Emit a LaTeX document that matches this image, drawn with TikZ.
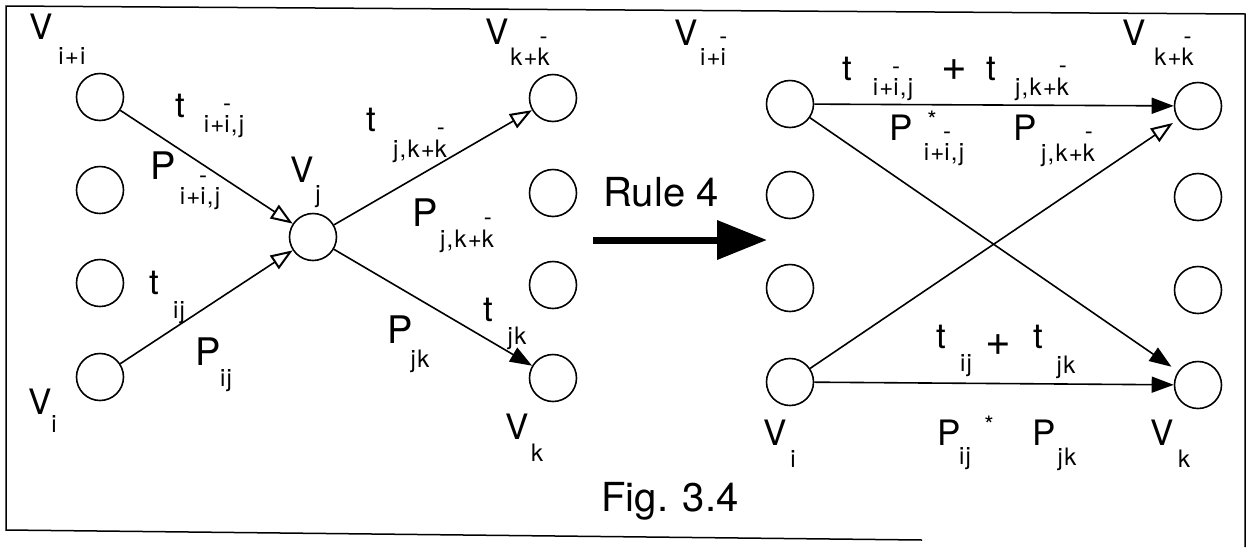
\documentclass[tikz,border=0pt]{standalone}
\usepackage{fontspec}
\setmainfont{TeX Gyre Heros}
\usetikzlibrary{arrows.meta}
\newcommand\ob[1]{\setbox0\hbox{#1}\rlap{\smash{\raisebox{\dimexpr\ht0+4pt\relax}{\hbox to\wd0{\hss-\hss}}}}#1}
\tikzset{
  main/.style={font=\fontsize{35}{40}\selectfont, inner sep=0pt},
  bigp/.style={font=\fontsize{38}{44}\selectfont, inner sep=0pt},
  sub/.style={font=\fontsize{24}{28}\selectfont\addfontfeature{LetterSpace=5}, inner sep=0pt},
  plus/.style={font=\fontsize{44}{50}\selectfont, inner sep=0pt},
  title/.style={font=\fontsize{40}{46}\selectfont, inner sep=0pt},
  vtx/.style={circle, draw, line width=1.6pt, minimum size=47pt, inner sep=0pt},
  conn/.style={line width=1.6pt},
  fa/.style={-{Triangle[length=22pt,width=16pt]}},
  oa/.style={-{Triangle[open,length=22pt,width=16pt,line width=2pt]}},
}
\begin{document}
\begin{tikzpicture}[x=1pt,y=-1pt]
\useasboundingbox (0,0) rectangle (1254,547);
% frame
\draw[line width=1.5pt] (922,540) -- (6,530) -- (6,6) -- (1245,14) -- (1245,547);
% left graph vertices
\node[vtx] (a1) at (100,97) {};
\node[vtx] (a2) at (100,190) {};
\node[vtx] (a3) at (100,283) {};
\node[vtx] (a4) at (100,377) {};
\node[vtx] (vj) at (313,237) {};
\node[vtx] (b1) at (553,98) {};
\node[vtx] (b2) at (553,193) {};
\node[vtx] (b3) at (553,285) {};
\node[vtx] (b4) at (553,378) {};
% right graph vertices
\node[vtx] (c1) at (790,104) {};
\node[vtx] (c2) at (790,195) {};
\node[vtx] (c3) at (790,288) {};
\node[vtx] (c4) at (790,382) {};
\node[vtx] (d1) at (1198,106) {};
\node[vtx] (d2) at (1198,197) {};
\node[vtx] (d3) at (1198,290) {};
\node[vtx] (d4) at (1198,385) {};
% left graph edges
\draw[conn,oa] (a1) -- (vj);
\draw[conn,oa] (a4) -- (vj);
\draw[conn,oa] (vj) -- (b1);
\draw[conn,fa] (vj) -- (b4);
% right graph edges
\draw[conn,fa] (c1) -- (d1);
\draw[conn,fa,shorten >=8pt] (c1) -- (d4);
\draw[conn,oa,shorten >=6pt] (c4) -- (d1);
\draw[conn,fa] (c4) -- (d4);
% rule arrow
\coordinate (rs) at (593,240);
\coordinate (re) at (767,240);
\draw[line width=7pt,-{Triangle[length=50pt,width=38pt]}] (rs) -- (re);
\node[title] (rule) at (661,192) {Rule 4};
\node[title] (fig) at (670,501) {Fig. 3.4};
% left graph labels
\node[main] (lVii) at (41,27) {V};
\node[sub] (lViis) at (72,56) {i+i};
\node[main] (lt1) at (180,106) {t};
\node[sub] (lt1s) at (224,127) {i+\ob{i},j};
\node[bigp] (lP1) at (163,166) {P};
\node[sub] (lP1s) at (200,199) {i+\ob{i},j};
\node[main] (lVj) at (302,170) {V};
\node[sub] (lVjs) at (318,197) {j};
\node[main] (ltij) at (154,283) {t};
\node[sub] (ltijs) at (179,313) {ij};
\node[bigp] (lPij) at (208,352) {P};
\node[sub] (lPijs) at (226,381) {ij};
\node[main] (lVi) at (40,402) {V};
\node[sub] (lVis) at (54,424) {i};
\node[main] (ltjk1) at (371,120) {t};
\node[sub] (ltjk1s) at (420,151) {j,k+\ob{k}};
\node[bigp] (lPjk1) at (425,213) {P};
\node[sub] (lPjk1s) at (467,241) {j,k+\ob{k}};
\node[main] (lVkk) at (497,32) {V};
\node[sub] (lVkks) at (530,57) {k+\ob{k}};
\node[bigp] (lPjk) at (400,330) {P};
\node[sub] (lPjks) at (420,361) {jk};
\node[main] (ltjk) at (488,310) {t};
\node[sub] (ltjks) at (517,338) {jk};
\node[main] (lVk) at (517,427) {V};
\node[sub] (lVks) at (537,453) {k};
% right graph labels
\node[main] (rVii) at (686,33) {V};
\node[sub] (rViis) at (713,57) {i+\ob{i}};
\node[main] (rVkk) at (1134,33) {V};
\node[sub] (rVkks) at (1174,57) {k+\ob{k}};
\node[main] (rt1) at (847,69) {t};
\node[sub] (rt1s) at (893,90) {i+\ob{i},j};
\node[plus] (rplus1) at (954,70) {+};
\node[main] (rt2) at (991,69) {t};
\node[sub] (rt2s) at (1042,89) {j,k+\ob{k}};
\node[main] (rP1) at (901,128) {P};
\node[sub] (rP1s) at (944,155) {i+\ob{i},j};
\node[sub] (rstar1) at (932,120) {*};
\node[main] (rP2) at (1025,128) {P};
\node[sub] (rP2s) at (1068,155) {j,k+\ob{k}};
\node[main] (rtij) at (941,337) {t};
\node[sub] (rtijs) at (966,366) {ij};
\node[plus] (rplus2) at (998,345) {+};
\node[main] (rtjk) at (1038,337) {t};
\node[sub] (rtjks) at (1066,367) {jk};
\node[main] (rVi) at (775,433) {V};
\node[sub] (rVis) at (793,459) {i};
\node[main] (rPij) at (949,433) {P};
\node[sub] (rPijs) at (965,459) {ij};
\node[sub] (rstar2) at (989,425) {*};
\node[main] (rPjk) at (1044,433) {P};
\node[sub] (rPjks) at (1067,459) {jk};
\node[main] (rVk) at (1162,433) {V};
\node[sub] (rVks) at (1184,459) {k};
\end{tikzpicture}
\end{document}
